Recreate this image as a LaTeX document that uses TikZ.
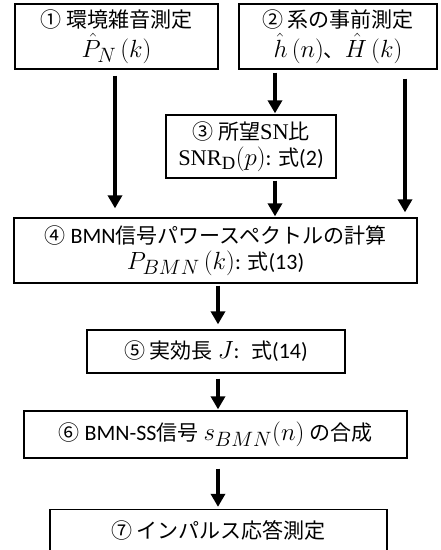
\documentclass[tikz,border=0pt]{standalone}
\usepackage{fontspec}
\setmainfont{Carlito}
\setmathrm{Liberation Serif}[Scale=0.9]
\newfontfamily\jp{Noto Sans CJK JP}[Scale=0.955]
\newcommand{\mth}[1]{{\fontsize{24.88}{26}\selectfont$#1$}}
\usetikzlibrary{arrows.meta}
\begin{document}
\begin{tikzpicture}[x=1pt,y=1pt,
  box/.style={draw,line width=1.3pt,inner sep=0pt,align=center,font=\fontsize{22}{26}\selectfont},
  arr/.style={line width=4pt,-{Triangle[width=14pt,length=13pt]}}]
\useasboundingbox (0,0) rectangle (441,550);
\node[box,minimum width=203pt,minimum height=65pt] (b1) at (116.5,513.5)
  {{\jp ① 環境雑音測定}\\[4pt]\mth{\hat{P}_N\,(k)}};
\node[box,minimum width=198pt,minimum height=65pt] (b2) at (338,513.5)
  {{\jp ② 系の事前測定}\\[4pt]\mth{\hat{h}\,(n)}{\jp 、}\mth{\hat{H}\,(k)}};
\node[box,minimum width=170pt,minimum height=63pt] (b3) at (251,403.5)
  {{\jp ③ 所望}\mth{\mathrm{SN}}{\jp 比}\\[0pt]\mth{\mathrm{SNR}_{\mathrm{D}}(p)}: {\jp 式}(2)};
\node[box,minimum width=403pt,minimum height=65pt] (b4) at (215.5,299.5)
  {{\jp ④} BMN{\jp 信号パワースペクトルの計算}\\[0pt]\mth{P_{BMN}\,(k)}: {\jp 式}(13)};
\node[box,minimum width=258pt,minimum height=43pt] (b5) at (216,198.5)
  {{\jp ⑤ 実効長} \mth{J}: \ {\jp 式}(14)};
\node[box,minimum width=383pt,minimum height=47pt] (b6) at (215.5,115.5)
  {{\jp ⑥} BMN-SS{\jp 信号} \mth{s_{BMN}(n)} {\jp の合成}};
\node[box,minimum width=337pt,minimum height=42pt] (b7) at (218.5,19.5)
  {{\jp ⑦ インパルス応答測定}};
\coordinate (xl) at (115,0);
\coordinate (xm) at (275,0);
\coordinate (xr) at (405,0);
\coordinate (xc) at (218,0);
\draw[arr,shorten <=6pt,shorten >=9pt] (b1.south -| xl) -- (b4.north -| xl);
\draw[arr,shorten <=9pt,shorten >=5pt] (b2.south -| xr) -- (b4.north -| xr);
\draw[arr,shorten <=3pt,shorten >=1pt] (b2.south -| xm) -- (b3.north -| xm);
\draw[arr,shorten <=2pt,shorten >=1pt] (b3.south -| xm) -- (b4.north -| xm);
\draw[arr,shorten <=2pt,shorten >=5pt] (b4.south -| xc) -- (b5.north -| xc);
\draw[arr,shorten <=5pt,shorten >=1pt] (b5.south -| xc) -- (b6.north -| xc);
\draw[arr,shorten <=10pt,shorten >=2pt] (b6.south -| xc) -- (b7.north -| xc);
\end{tikzpicture}
\end{document}
